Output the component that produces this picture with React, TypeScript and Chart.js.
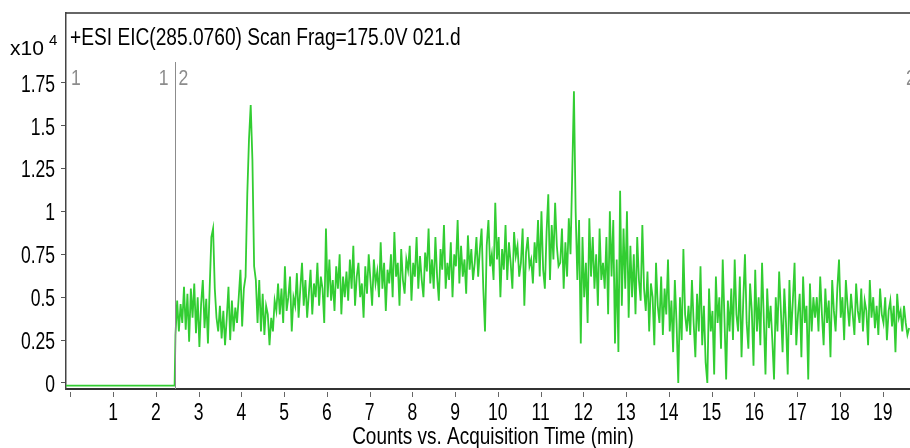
import React, { useEffect, useRef } from "react";
import { Chart, registerables } from "chart.js";

Chart.register(...registerables);

// ---- data (counts in units of 10^4) ----
const TITLE = "+ESI EIC(285.0760) Scan Frag=175.0V 021.d";
const X_AXIS_TITLE = "Counts vs. Acquisition Time (min)";

const baselineTimes = [-0.1, 1.2, 2.44];
const baselineCounts = [-0.015, -0.015, -0.015];

const scanStart = 2.46; // min
const scanStep = 0.04; // min per point
const counts = [
  0.28,0.48,0.3,0.46,0.35,0.56,0.31,0.52,0.24,0.55,0.38,0.58,0.29,0.5,0.21,0.46,0.6,0.32,0.49,0.23,0.55,0.85,0.9,0.55,0.38,
  0.3,0.45,0.26,0.42,0.22,0.38,0.56,0.25,0.48,0.3,0.44,0.35,0.5,0.66,0.33,0.55,0.62,1.1,1.42,1.62,1.3,0.68,0.6,0.35,0.6,
  0.3,0.52,0.28,0.45,0.4,0.22,0.38,0.3,0.48,0.42,0.58,0.4,0.55,0.35,0.68,0.42,0.5,0.62,0.3,0.5,0.45,0.64,0.38,0.55,0.7,
  0.45,0.6,0.38,0.52,0.66,0.4,0.58,0.5,0.7,0.45,0.62,0.55,0.35,0.9,0.5,0.72,0.48,0.6,0.42,0.68,0.55,0.75,0.4,0.62,0.5,
  0.65,0.48,0.72,0.55,0.8,0.45,0.62,0.7,0.5,0.58,0.38,0.68,0.52,0.75,0.6,0.45,0.72,0.58,0.65,0.5,0.82,0.55,0.7,0.42,0.66,
  0.58,0.75,0.5,0.88,0.62,0.7,0.45,0.78,0.6,0.52,0.72,0.66,0.8,0.48,0.7,0.62,0.85,0.55,0.74,0.6,0.5,0.76,0.65,0.9,0.58,
  0.72,0.55,0.85,0.62,0.48,0.78,0.66,0.92,0.55,0.7,0.6,0.82,0.5,0.75,0.68,0.95,0.58,0.8,0.62,0.72,0.52,0.86,0.66,0.78,0.6,
  0.7,0.85,0.62,0.78,0.9,0.55,0.3,0.8,0.95,0.68,0.75,0.6,1.05,0.72,0.85,0.5,0.78,0.66,0.92,0.6,0.82,0.7,0.55,0.88,0.74,
  0.8,0.62,0.7,0.9,0.45,0.76,0.85,0.68,0.72,0.58,0.82,0.7,0.95,0.62,1.0,0.66,0.55,0.88,1.1,0.6,0.92,0.72,1.05,0.8,0.68,
  0.7,0.9,0.55,0.82,0.62,0.96,0.75,1.22,1.7,1.0,0.6,0.95,0.23,0.85,0.5,0.7,0.35,0.96,0.62,0.85,0.55,0.75,0.45,0.9,0.6,
  0.7,0.55,0.85,0.4,1.0,0.62,0.95,0.23,0.72,0.18,1.12,0.45,0.9,0.55,1.0,0.38,0.8,0.5,0.75,0.4,0.85,0.6,0.48,0.92,0.55,
  0.42,0.65,0.3,0.58,0.5,0.22,0.7,0.45,0.35,0.62,0.28,0.55,0.4,0.72,0.3,0.48,0.18,0.6,0.35,0.0,0.5,0.25,0.78,0.4,0.3,
  0.45,0.28,0.6,0.35,0.15,0.52,0.3,0.68,0.22,0.45,0.12,0.0,0.55,0.3,0.42,0.05,0.62,0.35,0.5,0.2,0.72,0.38,0.02,0.48,0.3,
  0.55,0.25,0.72,0.4,0.3,0.62,0.15,0.48,0.75,0.35,0.2,0.58,0.42,0.1,0.66,0.3,0.5,0.22,0.7,0.38,0.05,0.55,0.32,0.45,0.25,
  0.02,0.5,0.3,0.65,0.42,0.18,0.55,0.35,0.05,0.6,0.28,0.48,0.7,0.22,0.4,0.52,0.15,0.62,0.35,0.45,0.02,0.58,0.3,0.5,0.38,
  0.5,0.3,0.62,0.4,0.22,0.55,0.35,0.48,0.15,0.6,0.42,0.3,0.55,0.72,0.38,0.5,0.25,0.6,0.45,0.33,0.52,0.4,0.28,0.58,0.42,
  0.35,0.55,0.3,0.48,0.42,0.22,0.6,0.38,0.5,0.32,0.45,0.28,0.55,0.4,0.35,0.5,0.25,0.42,0.48,0.33,0.45,0.18,0.52,0.38,0.42,
  0.3,0.45,0.35,0.28,0.32,
];

const yTickValues = [0, 0.25, 0.5, 0.75, 1, 1.25, 1.5, 1.75];
const yTickLabels = ["0", "0.25", "0.5", "0.75", "1", "1.25", "1.5", "1.75"];
const xTickValues = [0,1,2,3,4,5,6,7,8,9,10,11,12,13,14,15,16,17,18,19];
const xTickLabels = ["","1","2","3","4","5","6","7","8","9","10","11","12","13","14","15","16","17","18","19"];

const segmentLineTime = 2.44;
const segmentLabels = [
  { t: -0.1, text: "1", align: "left", dx: 5 },
  { t: 2.44, text: "1", align: "right", dx: -6 },
  { t: 2.44, text: "2", align: "left", dx: 4 },
  { t: 19.64, text: "2", align: "left", dx: -4 },
];

const FONT = "'Liberation Sans', Arial, sans-serif";

function drawText(
  ctx: CanvasRenderingContext2D,
  text: string,
  x: number,
  y: number,
  size: number,
  align: CanvasTextAlign,
  color: string,
  sx: number
) {
  ctx.save();
  ctx.translate(x, y);
  ctx.scale(sx, 1);
  ctx.font = `${size}px ${FONT}`;
  ctx.fillStyle = color;
  ctx.textAlign = align;
  ctx.textBaseline = "alphabetic";
  ctx.fillText(text, 0, 0);
  ctx.restore();
}

export default function App() {
  const ref = useRef<HTMLCanvasElement | null>(null);

  useEffect(() => {
    const canvas = ref.current;
    if (!canvas) return;
    document.body.style.margin = "0";

    const points: { x: number; y: number }[] = [];
    baselineTimes.forEach((t, i) => points.push({ x: t, y: baselineCounts[i] }));
    counts.forEach((v, i) => points.push({ x: +(scanStart + i * scanStep).toFixed(3), y: v }));

    const extras = {
      id: "extras",
      afterDraw(chart: any) {
        const ctx: CanvasRenderingContext2D = chart.ctx;
        const { left, right, top, bottom } = chart.chartArea;
        const xs = chart.scales.x;
        const ys = chart.scales.y;
        ctx.save();
        // top border
        ctx.strokeStyle = "#333";
        ctx.lineWidth = 1.5;
        ctx.beginPath();
        ctx.moveTo(left, top);
        ctx.lineTo(right, top);
        ctx.stroke();
        // x tick marks (detached below axis) and labels
        ctx.strokeStyle = "#666";
        ctx.lineWidth = 1;
        xTickValues.forEach((v, i) => {
          const px = Math.round(xs.getPixelForValue(v)) + 0.5;
          ctx.beginPath();
          ctx.moveTo(px, bottom + 3);
          ctx.lineTo(px, bottom + 8);
          ctx.stroke();
          if (xTickLabels[i]) drawText(ctx, xTickLabels[i], xs.getPixelForValue(v), 420, 24, "center", "#000", 0.73);
        });
        // y tick labels
        yTickValues.forEach((v, i) => {
          drawText(ctx, yTickLabels[i], 55, ys.getPixelForValue(v) + 9, 24, "right", "#000", 0.73);
        });
        // segment line
        const sx = Math.round(xs.getPixelForValue(segmentLineTime)) + 0.5;
        ctx.strokeStyle = "#8c8c8c";
        ctx.lineWidth = 1;
        ctx.beginPath();
        ctx.moveTo(sx, 62);
        ctx.lineTo(sx, bottom);
        ctx.stroke();
        // segment labels
        segmentLabels.forEach((s) => {
          drawText(ctx, s.text, xs.getPixelForValue(s.t) + s.dx, 85, 22, s.align as CanvasTextAlign, "#8c8c8c", 0.8);
        });
        // title
        drawText(ctx, TITLE, 70, 45, 23.5, "left", "#000", 0.815);
        // exponent
        drawText(ctx, "x10", 10, 55, 21, "left", "#000", 1);
        drawText(ctx, "4", 49, 45, 15, "left", "#000", 1);
        // x axis title
        drawText(ctx, X_AXIS_TITLE, 493, 444, 24, "center", "#000", 0.79);
        ctx.restore();
      },
    };

    const chart = new Chart(canvas, {
      type: "line",
      data: {
        datasets: [
          {
            data: points,
            borderColor: "#32cd32",
            borderWidth: 1.8,
            pointRadius: 0,
            tension: 0,
            fill: false,
          },
        ],
      },
      options: {
        animation: false,
        responsive: false,
        devicePixelRatio: 1,
        parsing: false,
        normalized: true,
        layout: { padding: { top: 13, left: 0, right: 0, bottom: 0 } },
        plugins: { legend: { display: false }, tooltip: { enabled: false }, title: { display: false } },
        scales: {
          x: {
            type: "linear",
            min: -0.1,
            max: 19.64,
            afterBuildTicks: (s: any) => {
              s.ticks = xTickValues.map((v) => ({ value: v }));
            },
            afterFit: (s: any) => {
              s.height = 59;
            },
            border: { display: true, color: "#333", width: 2 },
            grid: { display: false, drawOnChartArea: false, drawTicks: false },
            ticks: { display: false },
          },
          y: {
            type: "linear",
            min: -0.035,
            max: 2.156,
            afterBuildTicks: (s: any) => {
              s.ticks = yTickValues.map((v) => ({ value: v }));
            },
            afterFit: (s: any) => {
              s.width = 66;
            },
            border: { display: true, color: "#444", width: 1.5 },
            grid: { display: true, drawOnChartArea: false, drawTicks: true, tickLength: 5, color: "#555" },
            ticks: { display: false },
          },
        },
      },
      plugins: [extras],
    });

    return () => chart.destroy();
  }, []);

  return (
    <div style={{ position: "absolute", left: 0, top: 0, width: 910, height: 448, background: "#fff" }}>
      <canvas ref={ref} width={910} height={448} style={{ display: "block", width: 910, height: 448 }} />
    </div>
  );
}
